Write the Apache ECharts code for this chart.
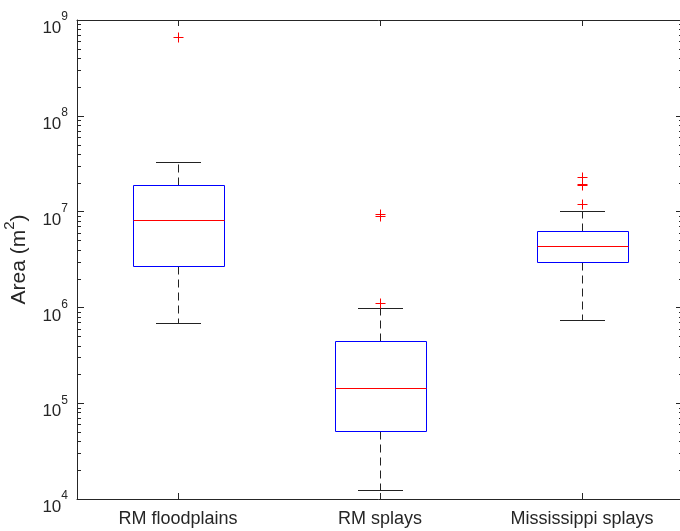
<!DOCTYPE html>
<html>
<head>
<meta charset="utf-8">
<script src="https://cdn.jsdelivr.net/npm/echarts@6/dist/echarts.min.js"></script>
<style>
  html, body { margin: 0; padding: 0; background: #ffffff; }
  #chart { width: 680px; height: 531px; }
</style>
</head>
<body>
<div id="chart"></div>
<script>
// Groups shown along the x axis
const categories = ['RM floodplains', 'RM splays', 'Mississippi splays'];

// Five-number summaries: [lower whisker, Q1, median, Q3, upper whisker] in m^2
const floodplainStats = [6.8e5, 2.7e6, 8.2e6, 1.9e7, 3.3e7];
const splayStats = [1.23e4, 5.1e4, 1.45e5, 4.45e5, 9.9e5];
const mississippiStats = [7.4e5, 2.96e6, 4.42e6, 6.2e6, 1.01e7];

// Outliers beyond the whiskers
const floodplainOutliers = [6.7e8];
const splayOutliers = [9.4e6, 8.9e6, 1.1e6];
const mississippiOutliers = [2.3e7, 1.96e7, 1.88e7, 1.19e7];

// Axis range and decade tick exponents
const yMin = 1e4;
const yMax = 1e9;
const decadeExponents = [4, 5, 6, 7, 8, 9];

const FONT = 'Liberation Sans, Arial, Helvetica, sans-serif';
const AXIS_COLOR = '#262626';

const boxData = [floodplainStats, splayStats, mississippiStats]
  .map((s, i) => [i].concat(s));

const outlierData = [];
[floodplainOutliers, splayOutliers, mississippiOutliers].forEach((arr, i) => {
  arr.forEach(v => outlierData.push([i, v]));
});

// Minor log ticks at 2..9 within each decade
const minorTicks = [];
for (let e = 4; e < 9; e++) {
  for (let m = 2; m <= 9; m++) minorTicks.push([0, m * Math.pow(10, e)]);
}

const crisp = v => Math.round(v) + 0.5;
const stroke = (color, extra) => Object.assign({ stroke: color, fill: null, lineWidth: 1 }, extra || {});

function renderBox(params, api) {
  const cat = api.value(0);
  const band = params.coordSys.width / categories.length;
  const pts = [1, 2, 3, 4, 5].map(i => api.coord([cat, api.value(i)]));
  const cx = crisp(pts[0][0]);
  const yLo = crisp(pts[0][1]);
  const yQ1 = crisp(pts[1][1]);
  const yMed = crisp(pts[2][1]);
  const yQ3 = crisp(pts[3][1]);
  const yHi = crisp(pts[4][1]);
  const halfBox = band * 0.225;
  const halfCap = band * 0.1125;
  const bx = crisp(cx - halfBox);
  const bw = Math.round(halfBox * 2);
  return {
    type: 'group',
    children: [
      { type: 'line', shape: { x1: cx, y1: yQ3, x2: cx, y2: yHi }, style: stroke('#222222', { lineDash: [8, 5] }) },
      { type: 'line', shape: { x1: cx, y1: yQ1, x2: cx, y2: yLo }, style: stroke('#222222', { lineDash: [8, 5] }) },
      { type: 'line', shape: { x1: Math.round(cx - halfCap), y1: yHi, x2: Math.round(cx + halfCap), y2: yHi }, style: stroke('#222222') },
      { type: 'line', shape: { x1: Math.round(cx - halfCap), y1: yLo, x2: Math.round(cx + halfCap), y2: yLo }, style: stroke('#222222') },
      { type: 'rect', shape: { x: bx, y: yQ3, width: bw, height: yQ1 - yQ3 }, style: stroke('#0000ff', { fill: 'none' }) },
      { type: 'line', shape: { x1: bx, y1: yMed, x2: bx + bw, y2: yMed }, style: stroke('#ff0000') }
    ]
  };
}

function renderOutlier(params, api) {
  const p = api.coord([api.value(0), api.value(1)]);
  const x = crisp(p[0]);
  const y = crisp(p[1]);
  const r = 5;
  return {
    type: 'group',
    children: [
      { type: 'line', shape: { x1: x - r, y1: y, x2: x + r, y2: y }, style: stroke('#ff0000') },
      { type: 'line', shape: { x1: x, y1: y - r, x2: x, y2: y + r }, style: stroke('#ff0000') }
    ]
  };
}

function renderMinorTick(params, api) {
  const y = crisp(api.coord([0, api.value(1)])[1]);
  const cs = params.coordSys;
  const left = Math.round(cs.x);
  const right = Math.round(cs.x + cs.width);
  return {
    type: 'group',
    children: [
      { type: 'line', shape: { x1: left, y1: y, x2: left + 4, y2: y }, style: stroke(AXIS_COLOR) },
      { type: 'line', shape: { x1: right, y1: y, x2: right - 4, y2: y }, style: stroke(AXIS_COLOR) }
    ]
  };
}

const chart = echarts.init(document.getElementById('chart'), null, { renderer: 'canvas' });

const tickStyle = { color: AXIS_COLOR, width: 1 };

chart.setOption({
  animation: false,
  backgroundColor: '#ffffff',
  grid: { left: 77, top: 20, width: 606, bottom: 32, containLabel: false, outerBoundsMode: 'none' },
  xAxis: [
    {
      type: 'category',
      data: categories,
      position: 'bottom',
      boundaryGap: true,
      axisLine: { show: true, onZero: false, lineStyle: tickStyle },
      axisTick: { show: true, inside: true, alignWithLabel: true, length: 6, lineStyle: tickStyle },
      axisLabel: { show: true, interval: 0, margin: 11, fontSize: 18, fontFamily: FONT, color: AXIS_COLOR },
      splitLine: { show: false }
    },
    {
      type: 'category',
      data: categories,
      position: 'top',
      boundaryGap: true,
      axisLine: { show: true, onZero: false, lineStyle: tickStyle },
      axisTick: { show: true, inside: true, alignWithLabel: true, length: 6, lineStyle: tickStyle },
      axisLabel: { show: false },
      splitLine: { show: false }
    }
  ],
  yAxis: [
    {
      type: 'log',
      logBase: 10,
      min: yMin,
      max: yMax,
      position: 'left',
      axisLine: { show: true, onZero: false, lineStyle: tickStyle },
      axisTick: { show: true, inside: true, length: 7, lineStyle: tickStyle },
      splitLine: { show: false },
      axisLabel: {
        show: true,
        margin: 9,
        padding: [8, 0, 0, 0],
        color: AXIS_COLOR,
        formatter: function (value) {
          const e = Math.round(Math.log10(value));
          if (decadeExponents.indexOf(e) < 0) return '';
          return '{b|10}{s|' + e + '}';
        },
        rich: {
          b: { fontSize: 17, fontFamily: FONT, color: AXIS_COLOR, lineHeight: 26, verticalAlign: 'bottom' },
          s: { fontSize: 12, fontFamily: FONT, color: AXIS_COLOR, lineHeight: 10, verticalAlign: 'top' }
        }
      },
      name: '{a|Area (m}{s|2}{a|)}',
      nameLocation: 'middle',
      nameGap: 47,
      nameTextStyle: {
        color: AXIS_COLOR,
        rich: {
          a: { fontSize: 21, fontFamily: FONT, color: AXIS_COLOR, lineHeight: 28, verticalAlign: 'bottom' },
          s: { fontSize: 15, fontFamily: FONT, color: AXIS_COLOR, lineHeight: 12, verticalAlign: 'top' }
        }
      }
    },
    {
      type: 'log',
      logBase: 10,
      min: yMin,
      max: yMax,
      position: 'right',
      axisLine: { show: true, onZero: false, lineStyle: tickStyle },
      axisTick: { show: true, inside: true, length: 7, lineStyle: tickStyle },
      axisLabel: { show: false },
      splitLine: { show: false }
    }
  ],
  series: [
    {
      type: 'custom',
      name: 'minor ticks',
      xAxisIndex: 0,
      yAxisIndex: 0,
      renderItem: renderMinorTick,
      data: minorTicks,
      silent: true,
      clip: false
    },
    {
      type: 'custom',
      name: 'boxes',
      xAxisIndex: 0,
      yAxisIndex: 0,
      renderItem: renderBox,
      encode: { x: 0, y: [1, 2, 3, 4, 5] },
      data: boxData,
      silent: true
    },
    {
      type: 'custom',
      name: 'outliers',
      xAxisIndex: 0,
      yAxisIndex: 0,
      renderItem: renderOutlier,
      encode: { x: 0, y: 1 },
      data: outlierData,
      silent: true,
      clip: false
    }
  ]
});
</script>
</body>
</html>
